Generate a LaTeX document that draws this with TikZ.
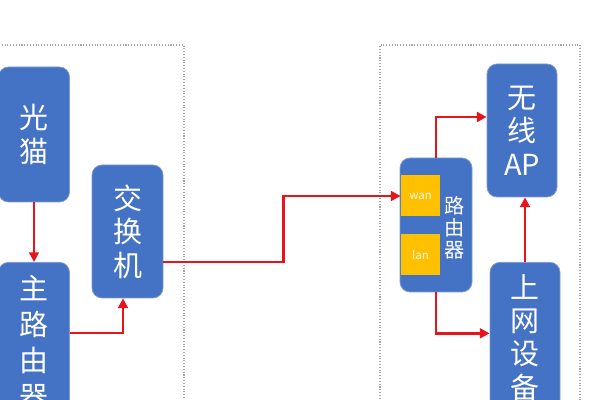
\documentclass[tikz,border=0pt]{standalone}
\usepackage{fontspec}
\usepackage{tikz}
\newfontfamily\cjk{Noto Sans CJK SC}
\definecolor{boxblue}{HTML}{4472C4}
\definecolor{boxline}{HTML}{7F9AD0}
\definecolor{portgold}{HTML}{FFC000}
\definecolor{linkred}{HTML}{E8141C}
\usetikzlibrary{positioning, arrows.meta}

\tikzset{
  devbox/.style={draw=boxline, fill=boxblue, rounded corners=0.2cm, text=white,
    minimum width=1.42cm, align=center, font=\cjk\fontsize{16.5pt}{19pt}\selectfont},
  port/.style={fill=portgold, minimum width=0.78cm, minimum height=0.82cm, inner sep=0pt,
    text=white!92!portgold, font=\cjk\fontsize{6.5pt}{7pt}\selectfont},
  link/.style={draw=linkred, line width=1.4pt, -{Triangle[length=5.5pt,width=5.5pt]}},
  zone/.style={draw=gray!70, densely dotted, line width=0.6pt}
}

\begin{document}
\begin{tikzpicture}
        \useasboundingbox (0,0) rectangle (12,8);
        \clip (0,0) rectangle (12,8);

        % draw dotted zones
        \draw[zone] (-0.2,-0.2) |- (3.68,7.1) -- (3.68,-0.2);
        \draw[zone] (7.6,-0.2) |- (11.6,7.1) -- (11.6,-0.2);

        % left side
        \node[devbox, minimum height=2.7cm] (gm) at (0.68,5.31) {光\\猫};
        \node[devbox, minimum height=3.2cm, anchor=north,
              font=\cjk\fontsize{16.5pt}{20.5pt}\selectfont] (zl) at (0.68,2.76) {主\\路\\由\\器};
        \node[devbox, minimum height=2.66cm] (jh) at (2.55,3.37) {交\\换\\机};

        % right side
        \node[devbox, minimum width=1.44cm, minimum height=2.68cm] (ly) at (8.72,3.5) {};
        \foreach \n/\y in {wan/4.08, lan/2.9}
        \node[port] (\n) at (8.41,\y) {\n};
        \node[text=white, align=center, inner sep=0pt,
              font=\cjk\fontsize{11.5pt}{12.5pt}\selectfont] (lytxt) at (9.1,3.44) {路\\由\\器};
        \node[devbox, minimum width=1.4cm, minimum height=2.66cm] (ap) at (10.44,5.39) {无\\线\\AP};
        \node[devbox, minimum width=1.4cm, minimum height=3cm, anchor=north] (sw) at (10.5,2.76) {上\\网\\设\\备};

        % connectors
        \draw[link] (gm.south) -- (zl.north);
        \draw[link] ([yshift=-1.42cm]zl.north east) -| ([xshift=-0.09cm]jh.south);
        \draw[link] ([yshift=-0.61cm]jh.east) -- ++(2.4,0) |- (wan.west);
        \draw[link] (ly.north) |- ([yshift=0.27cm]ap.west);
        \draw[link] (ly.south) |- ([yshift=0.08cm]sw.west);
        \draw[link] (sw.north) -- (sw.north |- ap.south);
    \end{tikzpicture}
\end{document}
